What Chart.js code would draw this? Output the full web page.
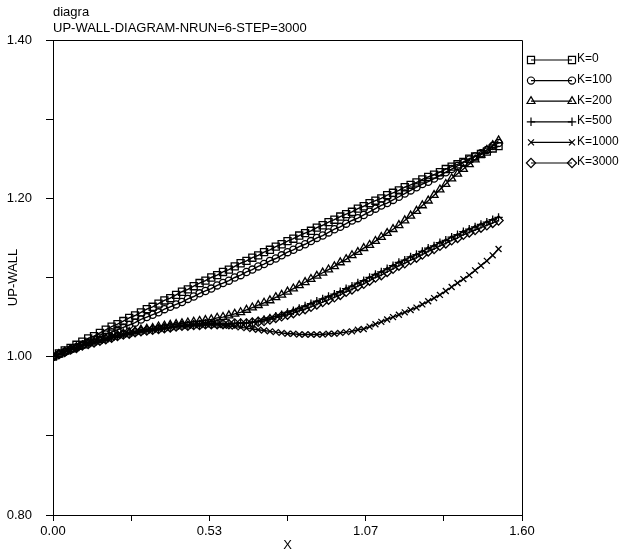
<!DOCTYPE html>
<html>
<head>
<meta charset="utf-8">
<script src="https://cdn.jsdelivr.net/npm/chart.js@4.4.1/dist/chart.umd.min.js"></script>
<style>
    html, body { margin: 0; padding: 0; background: #fff; }
    #wrap { width: 632px; height: 557px; }
</style>
</head>
<body>
<div id="wrap"><canvas id="chart" width="632" height="557"></canvas></div>
<script>
const titleLines = ["diagra", "UP-WALL-DIAGRAM-NRUN=6-STEP=3000"];
const xTitle = "X";
const yTitle = "UP-WALL";
const seriesNames = ["K=0", "K=100", "K=200", "K=500", "K=1000", "K=3000"];
const seriesMarkers = ["rect", "circle", "triangle", "cross", "crossRot", "rectRot"];

const xs = [
    0.00, 0.02, 0.04, 0.06, 0.08, 0.10, 0.12, 0.14, 0.16, 0.18,
    0.20, 0.22, 0.24, 0.26, 0.28, 0.30, 0.32, 0.34, 0.36, 0.38,
    0.40, 0.42, 0.44, 0.46, 0.48, 0.50, 0.52, 0.54, 0.56, 0.58,
    0.60, 0.62, 0.64, 0.66, 0.68, 0.70, 0.72, 0.74, 0.76, 0.78,
    0.80, 0.82, 0.84, 0.86, 0.88, 0.90, 0.92, 0.94, 0.96, 0.98,
    1.00, 1.02, 1.04, 1.06, 1.08, 1.10, 1.12, 1.14, 1.16, 1.18,
    1.20, 1.22, 1.24, 1.26, 1.28, 1.30, 1.32, 1.34, 1.36, 1.38,
    1.40, 1.42, 1.44, 1.46, 1.48, 1.50, 1.52
];

const k0 = [
    1.000, 1.004, 1.008, 1.011, 1.015, 1.019, 1.023, 1.026, 1.030, 1.034,
    1.038, 1.041, 1.045, 1.049, 1.052, 1.056, 1.060, 1.063, 1.067, 1.071,
    1.074, 1.078, 1.082, 1.085, 1.089, 1.093, 1.096, 1.100, 1.103, 1.107,
    1.110, 1.114, 1.118, 1.121, 1.125, 1.128, 1.132, 1.135, 1.139, 1.142,
    1.146, 1.149, 1.153, 1.156, 1.159, 1.163, 1.166, 1.170, 1.173, 1.177,
    1.180, 1.183, 1.187, 1.190, 1.194, 1.197, 1.200, 1.204, 1.207, 1.210,
    1.214, 1.217, 1.220, 1.224, 1.227, 1.230, 1.233, 1.237, 1.240, 1.243,
    1.246, 1.250, 1.253, 1.256, 1.259, 1.263, 1.266
];

const k100 = [
    1.000, 1.003, 1.006, 1.009, 1.012, 1.015, 1.018, 1.021, 1.024, 1.028,
    1.031, 1.034, 1.037, 1.040, 1.043, 1.047, 1.050, 1.053, 1.056, 1.060,
    1.063, 1.066, 1.069, 1.073, 1.076, 1.080, 1.083, 1.086, 1.090, 1.093,
    1.096, 1.100, 1.103, 1.107, 1.110, 1.114, 1.117, 1.121, 1.124, 1.128,
    1.132, 1.135, 1.139, 1.142, 1.146, 1.150, 1.153, 1.157, 1.161, 1.164,
    1.168, 1.172, 1.175, 1.179, 1.183, 1.187, 1.191, 1.194, 1.198, 1.202,
    1.206, 1.210, 1.214, 1.218, 1.221, 1.225, 1.229, 1.233, 1.237, 1.241,
    1.245, 1.249, 1.253, 1.257, 1.261, 1.266, 1.270
];

const k200 = [
    1.000, 1.003, 1.006, 1.009, 1.012, 1.014, 1.017, 1.019, 1.021, 1.023,
    1.025, 1.027, 1.029, 1.031, 1.032, 1.034, 1.035, 1.036, 1.038, 1.039,
    1.040, 1.041, 1.042, 1.043, 1.044, 1.045, 1.046, 1.047, 1.049, 1.050,
    1.052, 1.054, 1.056, 1.059, 1.062, 1.065, 1.068, 1.071, 1.075, 1.078,
    1.082, 1.086, 1.090, 1.094, 1.098, 1.102, 1.106, 1.110, 1.114, 1.119,
    1.123, 1.128, 1.132, 1.137, 1.141, 1.146, 1.151, 1.156, 1.161, 1.166,
    1.172, 1.178, 1.184, 1.191, 1.197, 1.204, 1.211, 1.218, 1.225, 1.231,
    1.237, 1.243, 1.249, 1.255, 1.261, 1.267, 1.273
];

const k500 = [
    1.000, 1.003, 1.006, 1.009, 1.011, 1.014, 1.016, 1.018, 1.020, 1.022,
    1.024, 1.026, 1.028, 1.029, 1.031, 1.032, 1.033, 1.034, 1.035, 1.036,
    1.037, 1.038, 1.039, 1.039, 1.040, 1.040, 1.041, 1.041, 1.041, 1.041,
    1.042, 1.042, 1.043, 1.043, 1.044, 1.045, 1.047, 1.049, 1.051, 1.053,
    1.056, 1.058, 1.061, 1.064, 1.067, 1.070, 1.073, 1.076, 1.079, 1.082,
    1.086, 1.089, 1.093, 1.096, 1.100, 1.104, 1.107, 1.111, 1.115, 1.119,
    1.122, 1.126, 1.129, 1.133, 1.137, 1.140, 1.144, 1.147, 1.151, 1.154,
    1.158, 1.161, 1.164, 1.167, 1.170, 1.173, 1.176
];

const k1000 = [
    1.000, 1.003, 1.006, 1.009, 1.011, 1.014, 1.016, 1.018, 1.020, 1.022,
    1.024, 1.026, 1.028, 1.029, 1.031, 1.032, 1.033, 1.034, 1.035, 1.036,
    1.037, 1.038, 1.039, 1.039, 1.040, 1.040, 1.041, 1.041, 1.041, 1.040,
    1.039, 1.038, 1.037, 1.036, 1.035, 1.034, 1.033, 1.032, 1.031, 1.030,
    1.029, 1.029, 1.028, 1.028, 1.028, 1.028, 1.028, 1.029, 1.029, 1.030,
    1.031, 1.032, 1.034, 1.035, 1.038, 1.041, 1.044, 1.047, 1.050, 1.053,
    1.056, 1.059, 1.062, 1.066, 1.070, 1.074, 1.078, 1.083, 1.088, 1.093,
    1.098, 1.103, 1.109, 1.115, 1.121, 1.128, 1.136
];

const k3000 = [
    1.000, 1.003, 1.006, 1.009, 1.011, 1.014, 1.016, 1.018, 1.020, 1.022,
    1.024, 1.026, 1.028, 1.029, 1.031, 1.032, 1.033, 1.034, 1.035, 1.036,
    1.037, 1.038, 1.039, 1.039, 1.040, 1.040, 1.041, 1.041, 1.041, 1.041,
    1.041, 1.042, 1.042, 1.042, 1.043, 1.044, 1.045, 1.047, 1.049, 1.051,
    1.053, 1.055, 1.058, 1.060, 1.063, 1.066, 1.069, 1.072, 1.075, 1.078,
    1.082, 1.085, 1.089, 1.092, 1.096, 1.100, 1.103, 1.107, 1.111, 1.115,
    1.118, 1.122, 1.125, 1.129, 1.133, 1.136, 1.140, 1.143, 1.147, 1.150,
    1.154, 1.157, 1.160, 1.163, 1.166, 1.169, 1.172
];

const seriesValues = [k0, k100, k200, k500, k1000, k3000];
const markerSizes = [5, 3.6, 4.6, 4.2, 4.2, 4.6];

const xMin = 0, xMax = 1.6;
const xTickCount = 6;
const yMin = 0.8, yMax = 1.4, yStep = 0.1;

document.addEventListener("DOMContentLoaded", () => {
    const ctx = document.getElementById("chart").getContext("2d");
    const fontFamily = "'Liberation Sans', Arial, Helvetica, sans-serif";
    Chart.defaults.font.family = fontFamily;
    Chart.defaults.color = "#000";

    const datasets = seriesNames.map((name, i) => ({
        label: name,
        data: xs.map((x, j) => ({ x: x, y: seriesValues[i][j] })),
        borderColor: "#000",
        borderWidth: 1.4,
        backgroundColor: "rgba(0,0,0,0)",
        pointStyle: seriesMarkers[i],
        pointRadius: markerSizes[i],
        pointBorderWidth: 1.3,
        pointBorderColor: "#000",
        pointBackgroundColor: "rgba(0,0,0,0)",
        tension: 0,
        fill: false
    }));

    // frame, header text and the marker-line-marker legend on the right
    const decor = {
        id: "decor",
        afterDraw(chart) {
            const c = chart.ctx;
            const area = chart.chartArea;
            c.save();
            c.strokeStyle = "#000";
            c.lineWidth = 1;
            c.beginPath();
            c.moveTo(area.left, area.top + 0.5);
            c.lineTo(area.right + 0.5, area.top + 0.5);
            c.lineTo(area.right + 0.5, area.bottom);
            c.stroke();

            c.fillStyle = "#000";
            c.font = "13px " + fontFamily;
            c.textAlign = "left";
            c.textBaseline = "middle";
            c.fillText(titleLines[0], area.left, 12);
            c.fillText(titleLines[1], area.left, 28);

            chart.data.datasets.forEach((ds, i) => {
                const y = 60 + i * 20.6;
                const x1 = 531, x2 = 572;
                c.strokeStyle = "#000";
                c.lineWidth = 1.2;
                c.beginPath();
                c.moveTo(x1, y);
                c.lineTo(x2, y);
                c.stroke();
                c.fillStyle = "rgba(0,0,0,0)";
                const opts = { pointStyle: ds.pointStyle, radius: ds.pointRadius, rotation: 0, borderWidth: 1.2 };
                Chart.helpers.drawPoint(c, opts, x1, y);
                Chart.helpers.drawPoint(c, opts, x2, y);
                c.fillStyle = "#000";
                c.font = "12px " + fontFamily;
                c.fillText(ds.label, 577, y - 1);
            });
            c.restore();
        }
    };

    new Chart(ctx, {
        type: "line",
        data: { datasets: datasets },
        options: {
            responsive: false,
            animation: false,
            layout: { padding: { top: 40, right: 110, left: 0, bottom: 0 } },
            plugins: {
                legend: { display: false },
                tooltip: { enabled: false }
            },
            scales: {
                x: {
                    type: "linear",
                    min: xMin,
                    max: xMax,
                    afterBuildTicks: (scale) => {
                        const ticks = [];
                        for (let i = 0; i <= xTickCount; i++) {
                            ticks.push({ value: xMin + (xMax - xMin) * i / xTickCount });
                        }
                        scale.ticks = ticks;
                    },
                    afterFit: (scale) => { scale.height = 42; },
                    ticks: {
                        autoSkip: false,
                        maxRotation: 0,
                        padding: 3,
                        font: { size: 13 },
                        color: "#000",
                        callback: (value, index) => index % 2 === 0 ? Number(value).toFixed(2) : ""
                    },
                    grid: { drawOnChartArea: false, tickLength: 6, color: "#000" },
                    border: { color: "#000", width: 1 },
                    title: { display: true, text: xTitle, font: { size: 13 }, color: "#000", padding: { top: 0, bottom: 4 } }
                },
                y: {
                    min: yMin,
                    max: yMax,
                    afterFit: (scale) => { scale.width = 53; },
                    ticks: {
                        stepSize: yStep,
                        padding: 14,
                        font: { size: 13 },
                        color: "#000",
                        callback: (value, index) => index % 2 === 0 ? Number(value).toFixed(2) : ""
                    },
                    grid: { drawOnChartArea: false, tickLength: 7, color: "#000" },
                    border: { color: "#000", width: 1 },
                    title: { display: true, text: yTitle, font: { size: 13 }, color: "#000", padding: { top: 6, bottom: 0 } }
                }
            }
        },
        plugins: [decor]
    });
});
</script>
</body>
</html>
